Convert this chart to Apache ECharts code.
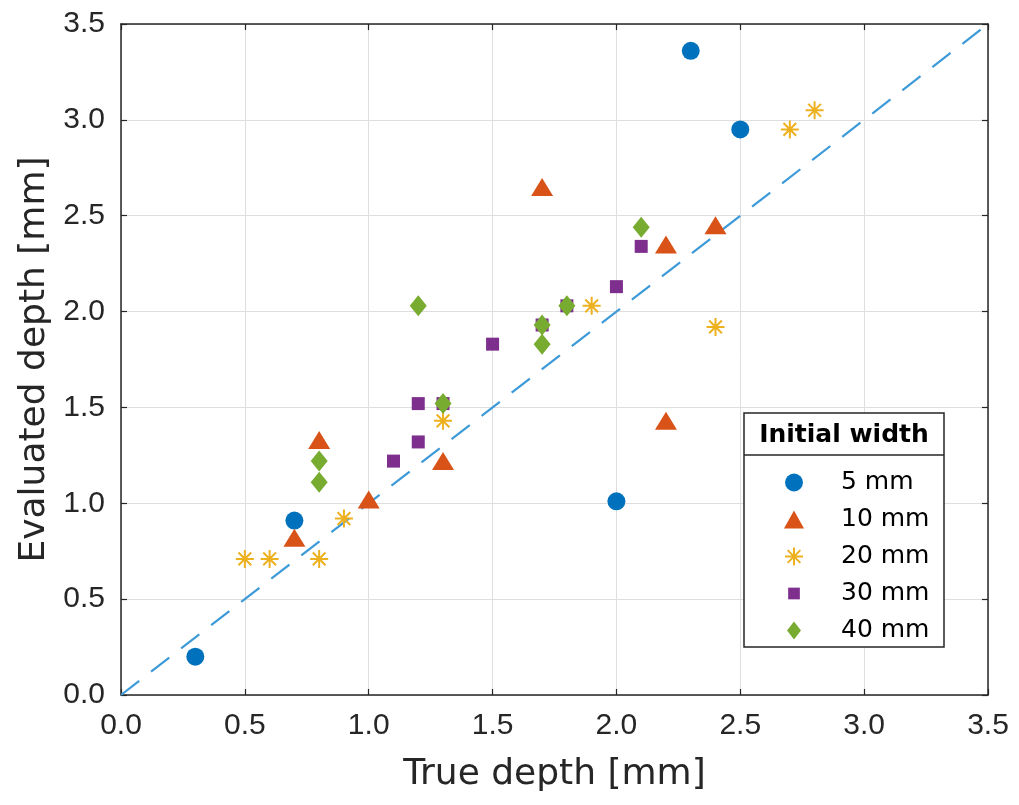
<!DOCTYPE html>
<html>
<head>
<meta charset="utf-8">
<script src="https://cdn.jsdelivr.net/npm/echarts@6/dist/echarts.min.js"></script>
<style>
html,body{margin:0;padding:0;background:#fff;}
#chart{width:1019px;height:805px;}
</style>
</head>
<body>
<div id="chart"></div>
<script>
// ---- data ----
const seriesNames = ['5 mm', '10 mm', '20 mm', '30 mm', '40 mm'];
const w5x = [0.3, 0.7, 2.0, 2.3, 2.5];
const w5y = [0.20, 0.91, 1.01, 3.36, 2.95];
const w10x = [0.7, 0.8, 1.0, 1.3, 1.7, 2.2, 2.2, 2.4];
const w10y = [0.82, 1.33, 1.02, 1.22, 2.65, 2.35, 1.43, 2.45];
const w20x = [0.5, 0.6, 0.8, 0.9, 1.3, 1.9, 2.4, 2.7, 2.8];
const w20y = [0.71, 0.71, 0.71, 0.92, 1.43, 2.03, 1.92, 2.95, 3.05];
const w30x = [1.1, 1.2, 1.2, 1.3, 1.5, 1.7, 1.8, 2.0, 2.1];
const w30y = [1.22, 1.32, 1.52, 1.52, 1.83, 1.93, 2.03, 2.13, 2.34];
const w40x = [0.8, 0.8, 1.2, 1.3, 1.7, 1.7, 1.8, 2.1];
const w40y = [1.22, 1.11, 2.03, 1.52, 1.93, 1.83, 2.03, 2.44];
const refX = [0, 3.5];
const refY = [0, 3.5];
const axisMin = 0, axisMax = 3.5, axisStep = 0.5;
const xTitle = 'True depth [mm]';
const yTitle = 'Evaluated depth [mm]';
const legendTitle = 'Initial width';

const zip = (xs, ys) => xs.map((x, i) => [x, ys[i]]);

const colors = ['#0072BD', '#D95319', '#EDB120', '#7E2F8E', '#77AC30'];
const asteriskPath = 'path://M0,-10L0,10M-10,0L10,0M-7.07,-7.07L7.07,7.07M-7.07,7.07L7.07,-7.07';
const squareLegendPath = 'path://M-10,-10M10,10M-6.5,-6.5L6.5,-6.5L6.5,6.5L-6.5,6.5Z';
const diamondPath = 'path://M0,-11L8.5,0L0,11L-8.5,0Z';

const axisColor = '#262626';
const tickFont = 'Liberation Sans';

function mainAxis(pos, name, isX) {
  return {
    type: 'value', position: pos, min: axisMin, max: axisMax, interval: axisStep,
    name: name, nameLocation: 'middle', nameGap: isX ? 62 : 68,
    nameTextStyle: { fontFamily: 'DejaVu Sans', fontSize: 36, color: axisColor },
    axisLine: { show: true, onZero: false, lineStyle: { color: axisColor, width: 1.5 } },
    axisTick: { show: true, inside: true, length: 6, lineStyle: { color: axisColor, width: 1.2 } },
    axisLabel: { show: true, margin: 16, fontFamily: tickFont, fontSize: 30, color: axisColor,
      formatter: v => v.toFixed(1) },
    splitLine: { show: true, lineStyle: { color: '#dedede', width: 1 } }
  };
}
function boxAxis(pos) {
  return {
    type: 'value', position: pos, min: axisMin, max: axisMax, interval: axisStep,
    axisLine: { show: true, onZero: false, lineStyle: { color: axisColor, width: 1.5 } },
    axisTick: { show: true, inside: true, length: 6, lineStyle: { color: axisColor, width: 1.2 } },
    axisLabel: { show: false },
    splitLine: { show: false }
  };
}

const chart = echarts.init(document.getElementById('chart'), null, { renderer: 'canvas' });
chart.setOption({
  animation: false,
  backgroundColor: '#ffffff',
  grid: { left: 121, right: 31, top: 24, bottom: 110, containLabel: false, outerBoundsMode: 'none' },
  xAxis: [mainAxis('bottom', xTitle, true), boxAxis('top')],
  yAxis: [mainAxis('left', yTitle, false), boxAxis('right')],
  legend: {
    orient: 'vertical', left: 779, top: 465, z: 20,
    itemWidth: 20, itemHeight: 18, itemGap: 12,
    textStyle: { fontFamily: 'DejaVu Sans', fontSize: 25, color: '#000', padding: [0, 0, 0, 32] },
    data: [
      { name: seriesNames[0], icon: 'circle' },
      { name: seriesNames[1], icon: 'triangle' },
      { name: seriesNames[2], icon: asteriskPath },
      { name: seriesNames[3], icon: squareLegendPath },
      { name: seriesNames[4], icon: diamondPath }
    ]
  },
  graphic: [
    { type: 'rect', z: 15, shape: { x: 744, y: 413, width: 200, height: 234 },
      style: { fill: '#fff', stroke: axisColor, lineWidth: 1.5 } },
    { type: 'line', z: 16, shape: { x1: 744, y1: 455, x2: 944, y2: 455 },
      style: { stroke: axisColor, lineWidth: 1.5 } },
    { type: 'text', z: 16, style: { text: legendTitle, x: 844, y: 435, align: 'center', verticalAlign: 'middle',
      font: 'bold 25px "DejaVu Sans"', fill: '#000' } }
  ],
  series: [
    { type: 'line', data: zip(refX, refY), symbol: 'none', silent: true, z: 1,
      lineStyle: { color: '#3d9ad8', width: 2.2, type: [23, 15] } },
    { name: seriesNames[0], type: 'scatter', data: zip(w5x, w5y), symbol: 'circle', symbolSize: 18,
      itemStyle: { color: colors[0], opacity: 1 } },
    { name: seriesNames[1], type: 'scatter', data: zip(w10x, w10y), symbol: 'triangle', symbolSize: [22, 18],
      itemStyle: { color: colors[1], opacity: 1 } },
    { name: seriesNames[2], type: 'scatter', data: zip(w20x, w20y), symbol: asteriskPath, symbolSize: 18,
      itemStyle: { color: 'rgba(0,0,0,0)', borderColor: colors[2], borderWidth: 2, opacity: 1 } },
    { name: seriesNames[3], type: 'scatter', data: zip(w30x, w30y), symbol: 'rect', symbolSize: 13,
      itemStyle: { color: colors[3], opacity: 1 } },
    { name: seriesNames[4], type: 'scatter', data: zip(w40x, w40y), symbol: diamondPath, symbolSize: [17, 21],
      itemStyle: { color: colors[4], opacity: 1 } }
  ]
});
</script>
</body>
</html>
